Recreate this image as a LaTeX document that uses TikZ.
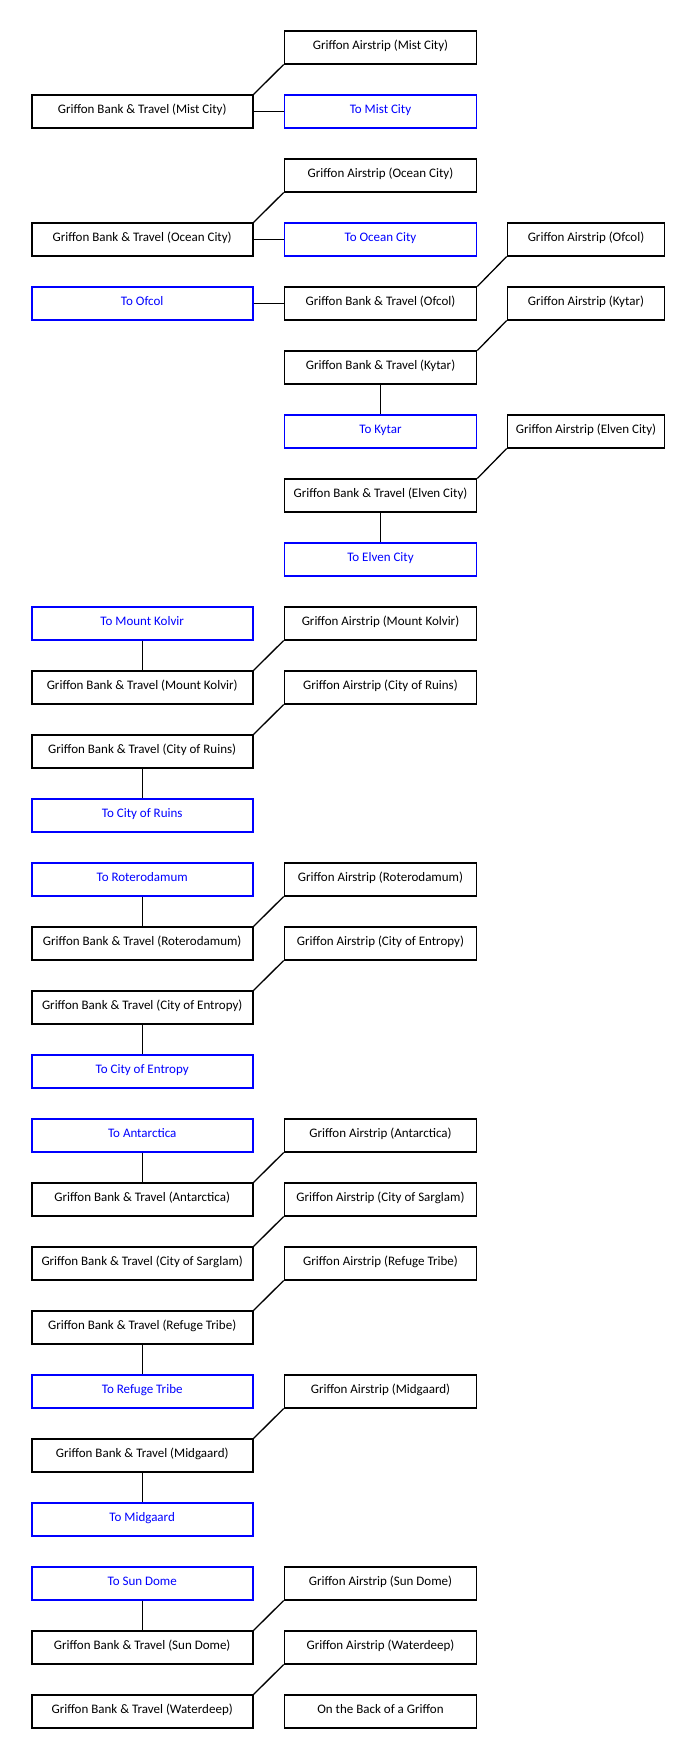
\documentclass[tikz,border=0pt]{standalone}
\usepackage{fontspec}
\setmainfont{Carlito}
\definecolor{portalblue}{RGB}{0,0,255}
\usetikzlibrary{positioning}

\begin{document}
\begin{tikzpicture}[
      x=1pt, y=-1pt,
      box/.style={draw, line width=1.7pt, inner ysep=0pt, inner xsep=2pt,
                  text height=18pt, text depth=14.4pt, align=center, font=\fontsize{13}{15}\selectfont},
      wide/.style={box, minimum width=221pt},
      mid/.style={box, minimum width=192pt},
      narrow/.style={box, minimum width=157pt},
      portal/.style={draw=portalblue, text=portalblue},
      link/.style={line width=1.3pt}
    ]
      \useasboundingbox (0,0) rectangle (696,1760);
      % Mist City, Ocean City
      \node[mid] (airmist) at (380.5,47.5) {Griffon Airstrip (Mist City)};
      \node[wide] (bankmist) at (142.2,111.5) {Griffon Bank \& Travel (Mist City)};
      \node[mid, portal] (tomist) at (380.5,111.5) {To Mist City};
      \node[mid] (airocean) at (380.5,175.5) {Griffon Airstrip (Ocean City)};
      \node[wide] (bankocean) at (142.2,239.5) {Griffon Bank \& Travel (Ocean City)};
      \node[mid, portal] (toocean) at (380.5,239.5) {To Ocean City};
      % Ofcol, Kytar, Elven City
      \node[narrow] (airofcol) at (586,239.5) {Griffon Airstrip (Ofcol)};
      \node[wide, portal] (toofcol) at (142.2,303.5) {To Ofcol};
      \node[mid] (bankofcol) at (380.5,303.5) {Griffon Bank \& Travel (Ofcol)};
      \node[narrow] (airkytar) at (586,303.5) {Griffon Airstrip (Kytar)};
      \node[mid] (bankkytar) at (380.5,367.5) {Griffon Bank \& Travel (Kytar)};
      \node[mid, portal] (tokytar) at (380.5,431.5) {To Kytar};
      \node[narrow] (airelven) at (586,431.5) {Griffon Airstrip (Elven City)};
      \node[mid] (bankelven) at (380.5,495.5) {Griffon Bank \& Travel (Elven City)};
      \node[mid, portal] (toelven) at (380.5,559.5) {To Elven City};
      % Mount Kolvir, City of Ruins
      \node[wide, portal] (tokolvir) at (142.2,623.5) {To Mount Kolvir};
      \node[mid] (airkolvir) at (380.5,623.5) {Griffon Airstrip (Mount Kolvir)};
      \node[wide] (bankkolvir) at (142.2,687.5) {Griffon Bank \& Travel (Mount Kolvir)};
      \node[mid] (airruins) at (380.5,687.5) {Griffon Airstrip (City of Ruins)};
      \node[wide] (bankruins) at (142.2,751.5) {Griffon Bank \& Travel (City of Ruins)};
      \node[wide, portal] (toruins) at (142.2,815.5) {To City of Ruins};
      % Roterodamum, City of Entropy
      \node[wide, portal] (torotero) at (142.2,879.5) {To Roterodamum};
      \node[mid] (airrotero) at (380.5,879.5) {Griffon Airstrip (Roterodamum)};
      \node[wide] (bankrotero) at (142.2,943.5) {Griffon Bank \& Travel (Roterodamum)};
      \node[mid] (airentropy) at (380.5,943.5) {Griffon Airstrip (City of Entropy)};
      \node[wide] (bankentropy) at (142.2,1007.5) {Griffon Bank \& Travel (City of Entropy)};
      \node[wide, portal] (toentropy) at (142.2,1071.5) {To City of Entropy};
      % Antarctica, City of Sarglam, Refuge Tribe, Midgaard
      \node[wide, portal] (toantarc) at (142.2,1135.5) {To Antarctica};
      \node[mid] (airantarc) at (380.5,1135.5) {Griffon Airstrip (Antarctica)};
      \node[wide] (bankantarc) at (142.2,1199.5) {Griffon Bank \& Travel (Antarctica)};
      \node[mid] (airsarglam) at (380.5,1199.5) {Griffon Airstrip (City of Sarglam)};
      \node[wide] (banksarglam) at (142.2,1263.5) {Griffon Bank \& Travel (City of Sarglam)};
      \node[mid] (airrefuge) at (380.5,1263.5) {Griffon Airstrip (Refuge Tribe)};
      \node[wide] (bankrefuge) at (142.2,1327.5) {Griffon Bank \& Travel (Refuge Tribe)};
      \node[wide, portal] (torefuge) at (142.2,1391.5) {To Refuge Tribe};
      \node[mid] (airmidgaard) at (380.5,1391.5) {Griffon Airstrip (Midgaard)};
      \node[wide] (bankmidgaard) at (142.2,1455.5) {Griffon Bank \& Travel (Midgaard)};
      \node[wide, portal] (tomidgaard) at (142.2,1519.5) {To Midgaard};
      % Sun Dome, Waterdeep
      \node[wide, portal] (tosundome) at (142.2,1583.5) {To Sun Dome};
      \node[mid] (airsundome) at (380.5,1583.5) {Griffon Airstrip (Sun Dome)};
      \node[wide] (banksundome) at (142.2,1647.5) {Griffon Bank \& Travel (Sun Dome)};
      \node[mid] (airwater) at (380.5,1647.5) {Griffon Airstrip (Waterdeep)};
      \node[wide] (bankwater) at (142.2,1711.5) {Griffon Bank \& Travel (Waterdeep)};
      \node[mid] (griffonback) at (380.5,1711.5) {On the Back of a Griffon};

      \draw[link] (bankmist.north east) -- (airmist.south west);
      \draw[link] (bankmist) -- (tomist);
      \draw[link] (bankocean.north east) -- (airocean.south west);
      \draw[link] (bankocean) -- (toocean);
      \draw[link] (bankofcol.north east) -- (airofcol.south west);
      \draw[link] (toofcol) -- (bankofcol);
      \draw[link] (bankkytar.north east) -- (airkytar.south west);
      \draw[link] (bankkytar) -- (tokytar);
      \draw[link] (bankelven.north east) -- (airelven.south west);
      \draw[link] (bankelven) -- (toelven);
      \draw[link] (tokolvir) -- (bankkolvir);
      \draw[link] (bankkolvir.north east) -- (airkolvir.south west);
      \draw[link] (bankruins.north east) -- (airruins.south west);
      \draw[link] (bankruins) -- (toruins);
      \draw[link] (torotero) -- (bankrotero);
      \draw[link] (bankrotero.north east) -- (airrotero.south west);
      \draw[link] (bankentropy.north east) -- (airentropy.south west);
      \draw[link] (bankentropy) -- (toentropy);
      \draw[link] (toantarc) -- (bankantarc);
      \draw[link] (bankantarc.north east) -- (airantarc.south west);
      \draw[link] (banksarglam.north east) -- (airsarglam.south west);
      \draw[link] (bankrefuge.north east) -- (airrefuge.south west);
      \draw[link] (bankrefuge) -- (torefuge);
      \draw[link] (bankmidgaard.north east) -- (airmidgaard.south west);
      \draw[link] (bankmidgaard) -- (tomidgaard);
      \draw[link] (tosundome) -- (banksundome);
      \draw[link] (banksundome.north east) -- (airsundome.south west);
      \draw[link] (bankwater.north east) -- (airwater.south west);
    \end{tikzpicture}
\end{document}
